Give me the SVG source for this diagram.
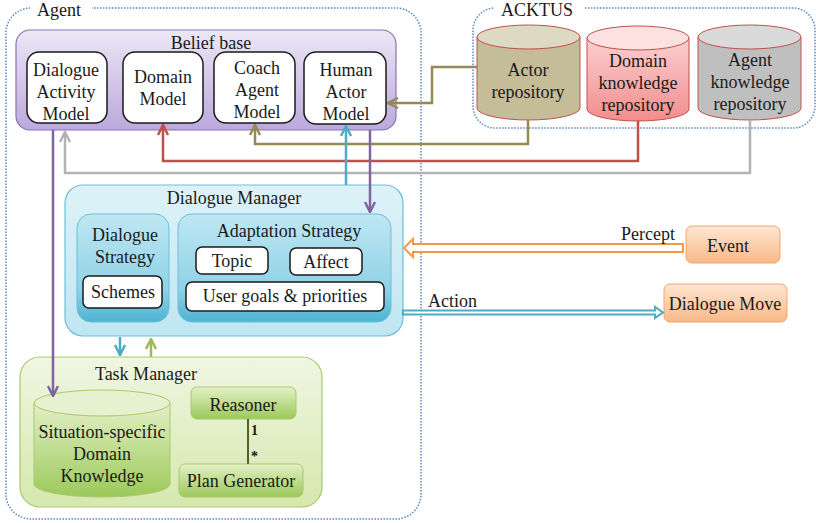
<svg xmlns="http://www.w3.org/2000/svg" width="816" height="523" viewBox="0 0 816 523">
  <style>
    text { font-family: "Liberation Serif", "Times New Roman", Times, Tinos, "Noto Serif", "DejaVu Serif", serif; font-size: 18px; fill: #1a1a1a; }
    .mid { text-anchor: middle; }
    .group { fill: none; stroke: #5b87c5; stroke-width: 1.5; stroke-dasharray: 1.5 1.5; }
    .white { fill: #ffffff; stroke: #1a1a1a; stroke-width: 1.5; }
    .conn { fill: none; stroke-width: 2.5; }
    .mult { font-size: 14px; font-weight: bold; }
  </style>
  <defs>
    <linearGradient id="gPurple" x1="0" y1="0" x2="0" y2="1">
      <stop offset="0" stop-color="#ede7f5"/>
      <stop offset="1" stop-color="#bba9dc"/>
    </linearGradient>
    <linearGradient id="gBlueOuter" x1="0" y1="0" x2="0" y2="1">
      <stop offset="0" stop-color="#def2f8"/>
      <stop offset="1" stop-color="#bfe6f2"/>
    </linearGradient>
    <linearGradient id="gBlueInner" x1="0" y1="0" x2="0" y2="1">
      <stop offset="0" stop-color="#bfe7f3"/>
      <stop offset="0.7" stop-color="#8fd2e6"/>
      <stop offset="1" stop-color="#4eb3d3"/>
    </linearGradient>
    <linearGradient id="gGreenOuter" x1="0" y1="0" x2="0" y2="1">
      <stop offset="0" stop-color="#f0f6e2"/>
      <stop offset="1" stop-color="#d5e8ad"/>
    </linearGradient>
    <linearGradient id="gGreenInner" x1="0" y1="0" x2="0" y2="1">
      <stop offset="0" stop-color="#e3f0c6"/>
      <stop offset="1" stop-color="#9cc95a"/>
    </linearGradient>
    <linearGradient id="gOrange" x1="0" y1="0" x2="0" y2="1">
      <stop offset="0" stop-color="#fde6d3"/>
      <stop offset="1" stop-color="#f9b987"/>
    </linearGradient>
    <linearGradient id="gPink" x1="0" y1="0" x2="0" y2="1">
      <stop offset="0" stop-color="#fbd0d0"/>
      <stop offset="1" stop-color="#f28d8d"/>
    </linearGradient>
    <marker id="aOlive" viewBox="0 0 10 10" refX="9" refY="5" markerWidth="5" markerHeight="5" orient="auto" markerUnits="strokeWidth">
      <path d="M1,1 L9,5 L1,9" fill="none" stroke="#948a54" stroke-width="2"/>
    </marker>
    <marker id="aRed" viewBox="0 0 10 10" refX="9" refY="5" markerWidth="5" markerHeight="5" orient="auto" markerUnits="strokeWidth">
      <path d="M1,1 L9,5 L1,9" fill="none" stroke="#c0504d" stroke-width="2"/>
    </marker>
    <marker id="aGray" viewBox="0 0 10 10" refX="9" refY="5" markerWidth="5" markerHeight="5" orient="auto" markerUnits="strokeWidth">
      <path d="M1,1 L9,5 L1,9" fill="none" stroke="#b3b3b3" stroke-width="2"/>
    </marker>
    <marker id="aPurple" viewBox="0 0 10 10" refX="9" refY="5" markerWidth="5" markerHeight="5" orient="auto" markerUnits="strokeWidth">
      <path d="M1,1 L9,5 L1,9" fill="none" stroke="#8064a2" stroke-width="2"/>
    </marker>
    <marker id="aBlue" viewBox="0 0 10 10" refX="9" refY="5" markerWidth="5" markerHeight="5" orient="auto" markerUnits="strokeWidth">
      <path d="M1,1 L9,5 L1,9" fill="none" stroke="#4bacc6" stroke-width="2"/>
    </marker>
    <marker id="aGreen" viewBox="0 0 10 10" refX="9" refY="5" markerWidth="5" markerHeight="5" orient="auto" markerUnits="strokeWidth">
      <path d="M1,1 L9,5 L1,9" fill="none" stroke="#9bbb59" stroke-width="2"/>
    </marker>
  </defs>

  <rect width="816" height="523" fill="#ffffff"/>

  <!-- dotted container frames -->
  <g id="agent">
    <rect class="group" x="6" y="8" width="415" height="511" rx="25"/>
    <rect x="30" y="3" width="62" height="10" fill="#ffffff"/>
    <text x="37" y="16">Agent</text>
  </g>
  <g id="acktus">
    <rect class="group" x="473" y="8" width="342" height="120" rx="22"/>
    <rect x="494" y="3" width="90" height="10" fill="#ffffff"/>
    <text x="501" y="16">ACKTUS</text>
  </g>

  <!-- belief base -->
  <g id="belief-base">
    <rect x="16" y="30" width="380" height="100" rx="14" fill="url(#gPurple)" stroke="#8a73b3" stroke-width="1.2"/>
    <text class="mid" x="211" y="49">Belief base</text>
  </g>
  <g id="dialogue-activity-model">
    <rect class="white" x="27" y="52" width="80" height="71" rx="12"/>
    <text class="mid" x="66" y="76">Dialogue</text>
    <text class="mid" x="66" y="98">Activity</text>
    <text class="mid" x="66" y="120">Model</text>
  </g>
  <g id="domain-model">
    <rect class="white" x="123" y="52" width="80" height="71" rx="12"/>
    <text class="mid" x="163" y="83">Domain</text>
    <text class="mid" x="163" y="105">Model</text>
  </g>
  <g id="coach-agent-model">
    <rect class="white" x="214" y="52" width="81" height="71" rx="12"/>
    <text class="mid" x="257" y="74">Coach</text>
    <text class="mid" x="257" y="96">Agent</text>
    <text class="mid" x="257" y="118">Model</text>
  </g>
  <g id="human-actor-model">
    <rect class="white" x="304" y="52" width="82" height="72" rx="12"/>
    <text class="mid" x="346" y="76">Human</text>
    <text class="mid" x="346" y="98">Actor</text>
    <text class="mid" x="346" y="120">Model</text>
  </g>

  <!-- repositories -->
  <g id="actor-repository">
    <path d="M477,37 L477,108 A51.5,12 0 0 0 580,108 L580,37 Z" fill="#c4bd97" stroke="#c0504d" stroke-width="1"/>
    <ellipse cx="528.5" cy="37" rx="51.5" ry="12" fill="#ddd9c3" stroke="#c0504d" stroke-width="1"/>
    <text class="mid" x="528" y="76">Actor</text>
    <text class="mid" x="528" y="98">repository</text>
  </g>
  <g id="domain-knowledge-repository">
    <path d="M587,38 L587,109 A51,12 0 0 0 689,109 L689,38 Z" fill="url(#gPink)" stroke="#c0504d" stroke-width="1"/>
    <ellipse cx="638" cy="38" rx="51" ry="12" fill="#fde0e0" stroke="#c0504d" stroke-width="1"/>
    <text class="mid" x="638" y="67">Domain</text>
    <text class="mid" x="638" y="89">knowledge</text>
    <text class="mid" x="638" y="111">repository</text>
  </g>
  <g id="agent-knowledge-repository">
    <path d="M698,37 L698,108 A51.5,12 0 0 0 801,108 L801,37 Z" fill="#bfbfbf" stroke="#c0504d" stroke-width="1"/>
    <ellipse cx="749.5" cy="37" rx="51.5" ry="12" fill="#dadada" stroke="#c0504d" stroke-width="1"/>
    <text class="mid" x="750" y="66">Agent</text>
    <text class="mid" x="750" y="88">knowledge</text>
    <text class="mid" x="750" y="110">repository</text>
  </g>

  <!-- dialogue manager -->
  <g id="dialogue-manager">
    <rect x="65" y="185" width="338" height="151" rx="18" fill="url(#gBlueOuter)" stroke="#6cbfd8" stroke-width="1.2"/>
    <text class="mid" x="234" y="204">Dialogue Manager</text>
  </g>
  <g id="dialogue-strategy">
    <rect x="77" y="214" width="92" height="108" rx="14" fill="url(#gBlueInner)" stroke="#6cbfd8" stroke-width="1"/>
    <text class="mid" x="125" y="241">Dialogue</text>
    <text class="mid" x="125" y="263">Strategy</text>
    <rect class="white" x="83" y="276" width="79" height="32" rx="6"/>
    <text class="mid" x="123" y="298">Schemes</text>
  </g>
  <g id="adaptation-strategy">
    <rect x="178" y="214" width="213" height="108" rx="14" fill="url(#gBlueInner)" stroke="#6cbfd8" stroke-width="1"/>
    <text class="mid" x="289" y="237">Adaptation Strategy</text>
    <rect class="white" x="196" y="247" width="72" height="27" rx="6"/>
    <text class="mid" x="232" y="267">Topic</text>
    <rect class="white" x="290" y="248" width="72" height="27" rx="6"/>
    <text class="mid" x="326" y="268">Affect</text>
    <rect class="white" x="186" y="282" width="198" height="29" rx="6"/>
    <text class="mid" x="285" y="302">User goals &amp; priorities</text>
  </g>

  <!-- external event / move -->
  <g id="event">
    <rect x="686" y="226" width="94" height="37" rx="6" fill="url(#gOrange)" stroke="#f5a46a" stroke-width="1"/>
    <text class="mid" x="728" y="252">Event</text>
  </g>
  <g id="dialogue-move">
    <rect x="664" y="284" width="123" height="38" rx="6" fill="url(#gOrange)" stroke="#f5a46a" stroke-width="1"/>
    <text class="mid" x="725" y="310">Dialogue Move</text>
  </g>

  <!-- task manager -->
  <g id="task-manager">
    <rect x="20" y="357" width="302" height="150" rx="20" fill="url(#gGreenOuter)" stroke="#a9c96b" stroke-width="1.2"/>
    <text class="mid" x="146" y="380">Task Manager</text>
  </g>
  <g id="situation-specific-domain-knowledge">
    <path d="M34,403 L34,484 A68,13 0 0 0 170,484 L170,403 Z" fill="url(#gGreenInner)" stroke="#a9c96b" stroke-width="1"/>
    <ellipse cx="102" cy="403" rx="68" ry="13" fill="#e6f1cf" stroke="#a9c96b" stroke-width="1"/>
    <text class="mid" x="102" y="438">Situation-specific</text>
    <text class="mid" x="102" y="460">Domain</text>
    <text class="mid" x="102" y="482">Knowledge</text>
  </g>
  <g id="reasoner">
    <rect x="191" y="387" width="105" height="32" rx="6" fill="url(#gGreenInner)" stroke="#a9c96b" stroke-width="1"/>
    <text class="mid" x="243" y="411">Reasoner</text>
  </g>
  <g id="plan-generator">
    <rect x="179" y="464" width="124" height="33" rx="6" fill="url(#gGreenInner)" stroke="#a9c96b" stroke-width="1"/>
    <text class="mid" x="241" y="487">Plan Generator</text>
  </g>

  <!-- connectors -->
  <g id="connectors">
    <!-- repositories feeding the belief base -->
    <path class="conn" d="M477,67 L432,67 L432,103 L388,103" stroke="#948a54" marker-end="url(#aOlive)"/>
    <path class="conn" d="M528,120 L528,144 L255,144 L255,125" stroke="#948a54" marker-end="url(#aOlive)"/>
    <path class="conn" d="M638,121 L638,161 L163,161 L163,125" stroke="#c0504d" marker-end="url(#aRed)"/>
    <path class="conn" d="M750,120 L750,173 L65,173 L65,132" stroke="#b3b3b3" marker-end="url(#aGray)"/>
    <!-- belief base to managers -->
    <path class="conn" d="M53,130 L53,396" stroke="#8064a2" marker-end="url(#aPurple)"/>
    <path class="conn" d="M370,130 L370,212" stroke="#8064a2" marker-end="url(#aPurple)"/>
    <path class="conn" d="M346,185 L346,126" stroke="#4bacc6" marker-end="url(#aBlue)"/>
    <!-- dialogue manager and task manager -->
    <path class="conn" d="M120,337 L120,355" stroke="#4bacc6" marker-end="url(#aBlue)"/>
    <path class="conn" d="M151,357 L151,339" stroke="#9bbb59" marker-end="url(#aGreen)"/>
    <!-- reasoner / plan generator association -->
    <line x1="248" y1="419" x2="248" y2="464" stroke="#4f6228" stroke-width="2"/>
    <text class="mult" x="251" y="435">1</text>
    <text class="mult" x="251" y="461">*</text>
    <!-- percept (hollow block arrow) -->
    <path d="M683,244 L413,244 L413,239 L404,248 L413,257 L413,252 L683,252 Z" fill="#ffffff" stroke="#f79646" stroke-width="2"/>
    <text x="621" y="240">Percept</text>
    <!-- action (hollow block arrow) -->
    <path d="M403,310.5 L655,310.5 L655,307 L663,312.5 L655,318 L655,314.5 L403,314.5 Z" fill="#ffffff" stroke="#4bacc6" stroke-width="2"/>
    <text x="428" y="307">Action</text>
  </g>
</svg>
